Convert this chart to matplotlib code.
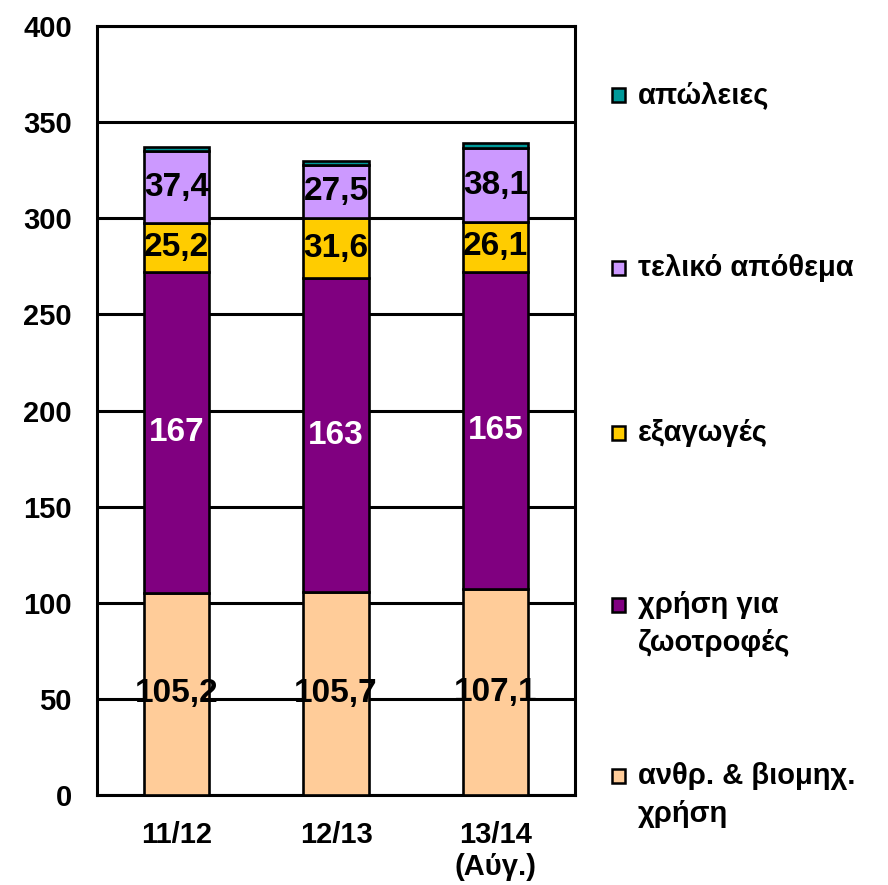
import matplotlib.pyplot as plt
import numpy as np

plt.rcParams['font.family'] = ['Liberation Sans', 'DejaVu Sans']

years = ['11/12', '12/13', '13/14\n(Αύγ.)']
food_ind = [105.2, 105.7, 107.1]
feed = [167, 163, 165]
exports = [25.2, 31.6, 26.1]
stock = [37.4, 27.5, 38.1]
losses = [2.4, 2.2, 2.6]

series = [
    ('ανθρ. & βιομηχ.\nχρήση', food_ind, '#FFCC99', 'black', lambda v: f'{v:.1f}'.replace('.', ',')),
    ('χρήση για\nζωοτροφές', feed, '#800080', 'white', lambda v: f'{v:.0f}'),
    ('εξαγωγές', exports, '#FFCC00', 'black', lambda v: f'{v:.1f}'.replace('.', ',')),
    ('τελικό απόθεμα', stock, '#CC99FF', 'black', lambda v: f'{v:.1f}'.replace('.', ',')),
    ('απώλειες', losses, '#009999', None, None),
]

fig = plt.figure(figsize=(8.88, 8.85), dpi=100)
ax = fig.add_axes([97/888, 1 - 795/885, 478/888, 769/885])

x = np.arange(len(years))
bottom = np.zeros(len(years))
for name, vals, color, tcol, fmt in series:
    vals = np.array(vals, dtype=float)
    ax.bar(x, vals, 0.41, bottom=bottom, color=color, edgecolor='black', linewidth=1.9, zorder=3)
    if fmt is not None:
        for xi, b, v in zip(x, bottom, vals):
            ax.text(xi, b + v / 2, fmt(v), ha='center', va='center', fontsize=24,
                    fontweight='bold', color=tcol, zorder=4)
    bottom += vals

ax.set_xlim(-0.5, 2.5)
ax.set_ylim(0, 400)
ax.set_yticks(np.arange(0, 401, 50))
ax.yaxis.grid(True, color='black', linewidth=2.2, zorder=0)
ax.set_axisbelow(True)
ax.set_xticks(x)
ax.set_xticklabels(years, fontsize=21, fontweight='bold', linespacing=1.15)
ax.tick_params(axis='y', labelsize=21, length=0, pad=18)
ax.tick_params(axis='x', length=0, pad=19)
for lab in ax.get_yticklabels():
    lab.set_fontweight('bold')
for s in ax.spines.values():
    s.set_linewidth(2.2)

# legend on the right, drawn manually
leg_y = [95, 268, 433, 605, 776]
for (name, vals, color, tcol, fmt), yy in zip(series[::-1], leg_y):
    fy = 1 - yy / 885
    fig.patches.append(plt.Rectangle((612/888, fy - 7/885), 13/888, 14/885, transform=fig.transFigure,
                                     facecolor=color, edgecolor='black', linewidth=1.8))
    for k, line in enumerate(name.split('\n')):
        fig.text(638/888, 1 - (yy + 38 * k) / 885, line, ha='left', va='center', fontsize=21,
                 fontweight='bold')

fig.savefig('out.png', dpi=100)
